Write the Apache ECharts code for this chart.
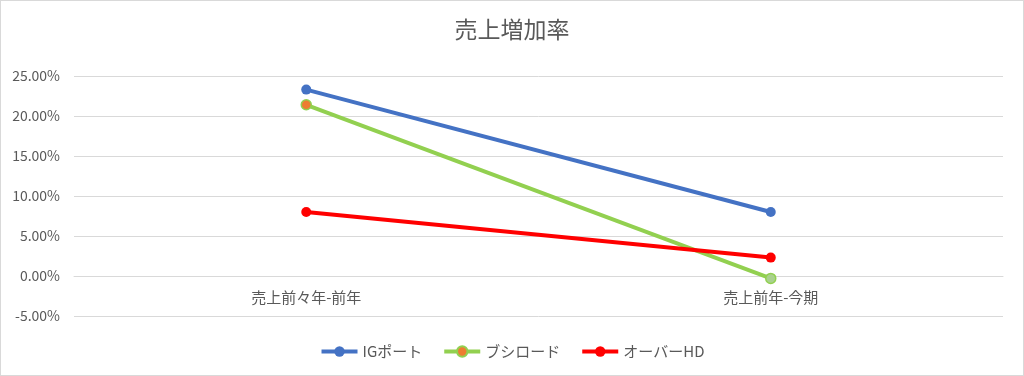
<!DOCTYPE html>
<html>
<head>
<meta charset="utf-8">
<script src="https://cdn.jsdelivr.net/npm/echarts@6/dist/echarts.min.js"></script>
<style>
  html, body { margin: 0; padding: 0; background: #fff; }
  #chart { width: 1024px; height: 376px; box-sizing: border-box; border: 1px solid #d9d9d9; }
</style>
</head>
<body>
<div id="chart"></div>
<script>
const categories = ["売上前々年-前年", "売上前年-今期"];
const igPort = [23.3, 8.0];
const bushiroad = [21.4, -0.3];
const overHD = [8.0, 2.3];
const yTicks = [-5, 0, 5, 10, 15, 20, 25];

const font = '"Noto Sans CJK JP", "Noto Sans", sans-serif';
const chart = echarts.init(document.getElementById("chart"));

chart.setOption({
  backgroundColor: "#fff",
  textStyle: { fontFamily: font },
  title: {
    text: "売上増加率",
    left: "center",
    top: 12,
    textStyle: { color: "#595959", fontSize: 23, fontWeight: "normal", fontFamily: font },
  },
  legend: {
    bottom: 11,
    itemWidth: 36,
    itemHeight: 13,
    itemGap: 20,
    lineStyle: { width: 4 },
    textStyle: { color: "#595959", fontSize: 15, fontFamily: font },
    data: ["IGポート", "ブシロード", "オーバーHD"],
  },
  grid: { left: 73, right: 20, top: 75, bottom: 59 },
  xAxis: {
    type: "category",
    data: categories,
    offset: -40,
    axisLine: { onZero: false, lineStyle: { color: "#d9d9d9", width: 1 } },
    axisTick: { show: false },
    axisLabel: { color: "#595959", fontSize: 15, margin: 14, fontFamily: font },
  },
  yAxis: {
    type: "value",
    min: yTicks[0],
    max: yTicks[yTicks.length - 1],
    interval: 5,
    axisLine: { show: false },
    axisTick: { show: false },
    axisLabel: {
      color: "#595959",
      fontSize: 14,
      margin: 14,
      fontFamily: font,
      formatter: (v) => v.toFixed(2) + "%",
    },
    splitLine: { lineStyle: { color: "#d9d9d9", width: 1 } },
  },
  series: [
    {
      name: "IGポート",
      type: "line",
      data: igPort,
      symbol: "circle",
      symbolSize: 10,
      lineStyle: { color: "#4472c4", width: 4 },
      itemStyle: { color: "#4472c4" },
    },
    {
      name: "ブシロード",
      type: "line",
      data: bushiroad.map((v, i) => ({
        value: v,
        itemStyle: { color: i === 0 ? "#ed7d31" : "#a9d18e", borderColor: "#92d050", borderWidth: 1.5 },
      })),
      symbol: "circle",
      symbolSize: 10,
      lineStyle: { color: "#92d050", width: 4 },
      itemStyle: { color: "#ed7d31", borderColor: "#92d050", borderWidth: 1.5 },
    },
    {
      name: "オーバーHD",
      type: "line",
      data: overHD,
      symbol: "circle",
      symbolSize: 10,
      lineStyle: { color: "#ff0000", width: 4 },
      itemStyle: { color: "#ff0000" },
    },
  ],
});
</script>
</body>
</html>
